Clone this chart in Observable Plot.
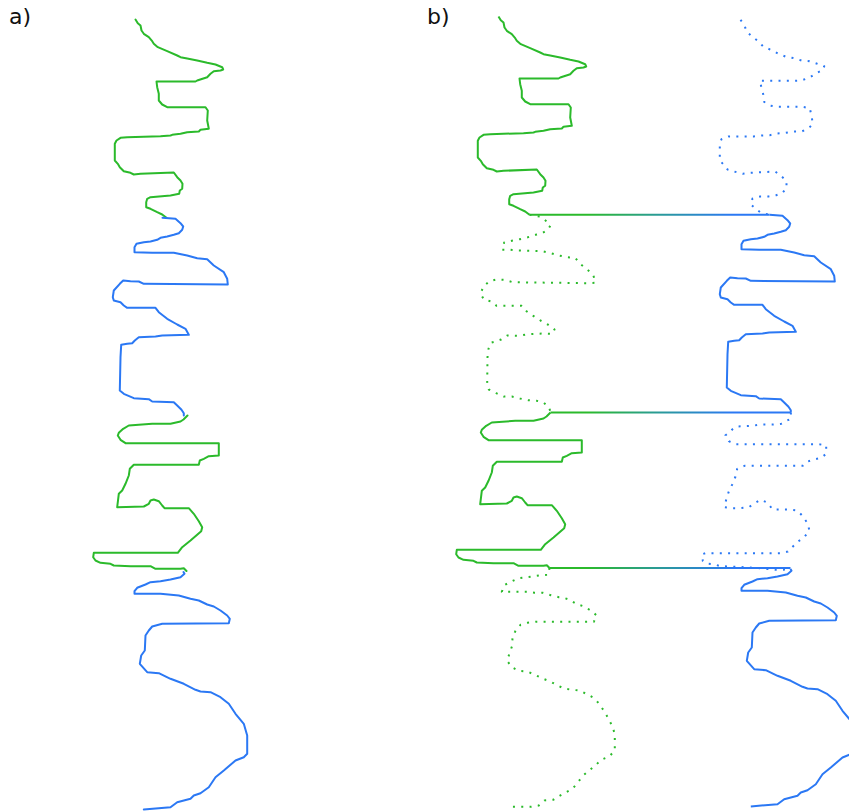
<!DOCTYPE html>
<html>
<head>
<meta charset="utf-8">
<script src="https://cdn.jsdelivr.net/npm/d3@7"></script>
<script src="https://cdn.jsdelivr.net/npm/@observablehq/plot@0.6"></script>
<style>
  html, body { margin: 0; padding: 0; background: #fff; overflow: hidden; }
  #figure { position: relative; width: 849px; height: 811px; }
  .panel { position: absolute; top: 0; }
  .panel svg { overflow: hidden; }
  .tag { position: absolute; top: 6px; font: 22px "DejaVu Sans", sans-serif; color: #111; line-height: 1; }
</style>
</head>
<body>
<div id="figure">
  <div class="panel" id="panelA" style="left:0"></div>
  <div class="panel" id="panelB" style="left:424px"></div>
  <div class="tag" style="left:9px">a)</div>
  <div class="tag" style="left:427px">b)</div>
</div>
<script>
// Two well logs, each as [depth, value] pairs, split at the three correlation ties.
// Interval 1: top -> tie 1, interval 2: tie 1 -> tie 2, interval 3: tie 2 -> tie 3, interval 4: tie 3 -> base.

const greenTop = [[19,135],[22.7,137.3],[25,140],[30,141],[33.3,143.3],[36.7,148.3],[40.7,151.7],[43.3,153.3],[46.7,157.3],[50.7,166.7],[55,176.7],[56.7,180],[58,186.7],[60,196.7],[62.3,206.7],[64,215],[66.7,221.7],[69,222.7],[70,220],[70.7,213.3],[73.3,210],[76.7,206.7],[80,196.7],[81,195],[81,156],[86.7,156.7],[93.3,158.3],[100,158.3],[104,161.7],[106.7,166.7],[106.7,205],[110,207.3],[120,206.7],[128.3,208.3],[129.3,200],[131,198.3],[131.7,186.7],[133.3,180],[134.3,171.7],[135,170],[135.7,160],[136.7,126.7],[137.3,120],[140,116],[143.3,114.3],[160,114.3],[163.3,117.3],[166.7,119.3],[170.7,123.3],[172.3,130],[174,133.3],[173.3,140],[172,173.3],[176.7,176.7],[180,180],[183.3,182],[188.3,181.7],[190,179.3],[193.3,178.7],[195,170],[196.7,150],[198.3,146.7],[201.7,145.7],[206.7,145.7],[208.3,150],[211.7,156.7],[214,161.7],[217.3,166]];

const greenMid = [[217.3,166],[219,176.3],[223,182],[228,187],[232.7,184],[236,178],[237,173],[239,167],[240.3,162.3],[241.7,156.3],[243.3,148.3],[245,140.7],[252.3,138.7],[252.3,147],[253,155],[253.7,179.3],[255.7,187.3],[258,195.3],[259.7,203.7],[260.3,211.7],[266.7,217],[271.7,223.3],[277.3,229.7],[285.3,232],[285.7,224],[284.7,149],[282.3,141],[282,133],[283.7,126],[288.7,120.3],[295.7,117],[302,120.3],[304,128],[308.3,133],[308.3,158.3],[314,163.3],[318.3,169.7],[323,177],[327,184.3],[332,191],[336.3,189],[336,180.7],[336.7,164.3],[338.3,156],[338,143.7],[342,137.7],[344.3,131],[345.3,127.3],[351.3,125],[359.7,124],[384.7,123.7],[392,125.3],[395.7,132.7],[399,140.3],[399,148.3],[401,156.3],[402.7,164.7],[403.3,173],[404.7,179.7],[410,185.7],[415,187]];

const greenLow = [[415,187],[419,183],[421,180],[423.3,170],[423.3,151.7],[425,128.3],[428.3,122.7],[432.3,118.3],[435,117.3],[439.3,120],[442.7,125],[442.7,218.3],[455,218.3],[455.7,208.3],[458.3,203.3],[460,199.3],[464.3,198.3],[464.3,133.3],[468.3,129.3],[475,128.3],[483.3,125],[490,121.7],[493.3,118.3],[506.7,116.7],[506,143.3],[503.3,148.3],[500,150],[499,153.3],[500.7,158.3],[505,161.7],[507.7,164],[507.7,188.3],[513.3,193.3],[520.7,198.3],[526.7,201.7],[530.7,200.7],[540,190],[546.7,181.7],[552.3,177.3],[552.3,93.3],[556.7,92.7],[560,95],[562.3,100],[563.3,110],[565,113.3],[565.7,130],[565.7,150],[568.3,155],[568.3,180],[567.7,183.3],[570.5,186]];

const greenBase = [[570.5,186],[577.3,185],[577.7,177.3],[578.7,170.7],[579.7,162.7],[580.7,155],[584,148],[587.7,140.7],[594.3,138.3],[594.3,163.3],[595.3,171],[595.3,179.3],[597.7,187.3],[599.7,195.3],[600,199.3],[602.3,206.3],[606.7,213.3],[609,220.7],[613,227.3],[618,233.3],[624.3,230.3],[624.3,172],[625.3,164],[627.3,157],[633.3,152],[640,149],[648.3,148.7],[655.7,146],[663.3,143.7],[669.7,148.3],[673.3,155.3],[674,163.7],[677,170.7],[681,179],[684,186.7],[687.3,193],[691,200.3],[692.3,208.3],[693,216.3],[697,224],[701,231.3],[707.7,236.7],[714.7,241.3],[721.7,245.3],[728.7,248.7],[736.3,251.3],[753,251.3],[759,245.7],[762,238.3],[767.7,232],[773,225.7],[778.3,219.3],[785,214.3],[791.3,209],[795,202],[799,194.7],[802.3,189.7],[803,181],[808,175.3],[809.3,167.3],[809.3,148.7]];

const blueTop = [[22.3,133],[27.7,137],[34,139],[39,144.7],[43.7,150.7],[49,155.7],[52.3,163.3],[56.3,171],[59.3,178.7],[60.7,186.7],[63,194],[63.7,202],[66,209],[68.7,216.7],[72.3,215.7],[75.7,208.7],[80.3,201.7],[83,193.7],[83.3,185.7],[83.3,152.3],[89,153.7],[96.7,155.7],[104.3,156.7],[108,162.3],[109.3,170],[109.3,195],[110.7,202.3],[118.3,204],[126.3,205.3],[130.7,201.3],[134,194.3],[134,186],[135.3,178],[136,169.7],[137.7,162.3],[138,154],[139,146],[139,121],[141.7,114],[146.3,112.3],[163,112.3],[167.3,116.3],[172,120],[174.3,127.7],[176.3,135.3],[175.3,143],[174,167.7],[177.7,172.7],[183.3,179],[190.7,179],[195.7,174.7],[197.7,168.7],[199,161],[199,152.7],[201,145],[207,143.3],[211.3,148.3],[215,153],[217.3,162]];

const blueMid = [[217.3,162],[218.3,175],[222.7,180],[226,182.7],[229.3,181.7],[232.7,178.3],[234.3,173.3],[236,166.7],[237.3,160],[239.3,156.7],[241,150],[241.7,143.3],[243.3,136],[246.7,134],[251.7,134],[252.3,151.7],[252.3,173.3],[255,186.7],[257.7,196.7],[258.7,206.7],[265,213.3],[271.7,223.3],[278.3,226.7],[284,227.3],[283.3,143.3],[281,138.3],[280.7,130],[280,122.7],[283.3,119.3],[290,113.3],[296.7,112.3],[300,113.3],[301.7,120],[305,123.3],[307.3,126.7],[307.3,155],[311.7,158.3],[318.3,166.7],[324,176.7],[328.3,185],[334.3,188.3],[335,161.7],[336,155],[336.7,138.3],[340,134.3],[342.7,131.7],[343.3,126.7],[344.3,120.7],[356.7,120],[390,119.3],[393.3,123.3],[397.7,133.3],[398.7,148.3],[401,151.7],[401.7,173.3],[405,176.7],[409.3,181],[412.7,183.3],[415,183.3]];

const blueLow = [[415,183.3],[421,183.7],[423.7,178.3],[426.3,173.7],[427,165.7],[427,153],[428.3,145],[429,129],[432,124.7],[434,123],[437.7,118],[443.7,121.3],[446.7,128],[446.7,211.3],[448,218.7],[456.3,218.7],[460.3,213.7],[462,206.3],[464,200.3],[468.3,195.3],[468.3,137],[471.3,129.7],[479,128],[487,124.7],[494,121.3],[502,118.7],[509.7,117],[510.7,124.7],[510.7,133],[509.7,141.3],[505.7,147.3],[502.3,153],[505.3,160.3],[512,165],[512,181.3],[513,189.7],[518,194.7],[525.3,199.7],[533,202],[539.3,197],[544,190.7],[549.7,184.7],[554,180.3],[555.7,173],[555.7,98],[556.7,94.7],[563.3,95.3],[566,99],[566.7,106.3],[568.7,113],[569,121.3],[569.7,137.3],[570.7,152.3],[572.3,167.3],[572.3,175.7],[571.5,183]];

const blueBase = [[571.5,183],[573.3,184],[576.7,180],[579,170],[580.7,160],[581.7,150],[584,145],[587.3,136.7],[590.7,134],[593.3,134],[593.3,160],[595,178.3],[598.3,190],[600,198.3],[604,206.7],[606,213.3],[610,220],[615,226.7],[618.3,229.3],[622.7,228.3],[623.3,161.7],[626,151.7],[630,148.3],[635,145],[650,144.3],[655,140.7],[663.3,139.3],[671.7,146.7],[672.7,158.3],[678.3,170],[683.3,183.3],[689.3,195],[691,200],[691.7,210],[696.7,220],[703.3,228.3],[713.3,235],[723.3,243.3],[735,246.7],[753.3,246.7],[756.7,243.3],[760,235],[770,223.3],[776.7,215],[786.7,208.3],[792.7,200],[795,193.3],[798.3,190],[801.7,176.7],[806.7,170],[809,143.3]];

// Depths of the three correlation ties
const tieDepths = [217.3, 415, 570.5];

const greenIntervals = [greenTop, greenMid, greenLow, greenBase];
const blueIntervals = [blueTop, blueMid, blueLow, blueBase];

const GREEN = "#2bba2b";
const BLUE = "#2b78f4";
const depth = d => d[0];

// Panel a: spliced composite, alternating green and blue intervals
const spliced = [greenTop, blueMid, greenLow, blueBase];
const splicedColor = [GREEN, BLUE, GREEN, BLUE];

const plotA = Plot.plot({
  width: 424, height: 811, margin: 0,
  x: {domain: [0, 424], range: [0, 424], axis: null},
  y: {domain: [0, 811], range: [0, 811], axis: null},
  marks: spliced.map((seg, i) =>
    Plot.line(seg, {x: d => d[1], y: depth, stroke: splicedColor[i], strokeWidth: 2}))
});
document.getElementById("panelA").append(plotA);

// Panel b: both logs side by side; the intervals used in the splice are solid, the rest dotted
const greenTrack = -61;   // horizontal placement of the green log in panel b
const blueTrack = 183;    // horizontal placement of the blue log in panel b
const dotted = "2,6.3";

const logMarks = (intervals, track, color, solidIdx) => intervals.map((seg, i) =>
  Plot.line(seg, {
    x: d => d[1] + track, y: depth, stroke: color, strokeWidth: 2,
    strokeDasharray: solidIdx.includes(i) ? null : dotted,
    strokeLinecap: "butt"
  }));

const ties = tieDepths.map((dep, k) => ({
  depth: dep,
  green: greenIntervals[k + 1][0][1] + greenTrack,
  blue: blueIntervals[k + 1][0][1] + blueTrack
}));

const plotB = Plot.plot({
  width: 425, height: 811, margin: 0,
  x: {domain: [0, 425], range: [0, 425], axis: null},
  y: {domain: [0, 811], range: [-3, 808], axis: null},
  marks: [
    ...logMarks(greenIntervals, greenTrack, GREEN, [0, 2]),
    ...logMarks(blueIntervals, blueTrack, BLUE, [1, 3]),
    Plot.link(ties, {x1: "green", x2: "blue", y1: "depth", y2: "depth",
      stroke: "url(#tieGradient)", strokeWidth: 2})
  ]
});

// Green-to-blue gradient along the tie lines
const xs = plotB.scale("x");
const gx1 = xs.apply(d3.min(ties, t => t.green));
const gx2 = xs.apply(d3.max(ties, t => t.blue));
const defs = d3.select(plotB).insert("defs", ":first-child");
const grad = defs.append("linearGradient")
  .attr("id", "tieGradient")
  .attr("gradientUnits", "userSpaceOnUse")
  .attr("x1", gx1).attr("x2", gx2).attr("y1", 0).attr("y2", 0);
grad.append("stop").attr("offset", "0%").attr("stop-color", GREEN);
grad.append("stop").attr("offset", "22%").attr("stop-color", GREEN);
grad.append("stop").attr("offset", "50%").attr("stop-color", "#2a9a9a");
grad.append("stop").attr("offset", "78%").attr("stop-color", BLUE);
grad.append("stop").attr("offset", "100%").attr("stop-color", BLUE);
document.getElementById("panelB").append(plotB);
</script>
</body>
</html>
